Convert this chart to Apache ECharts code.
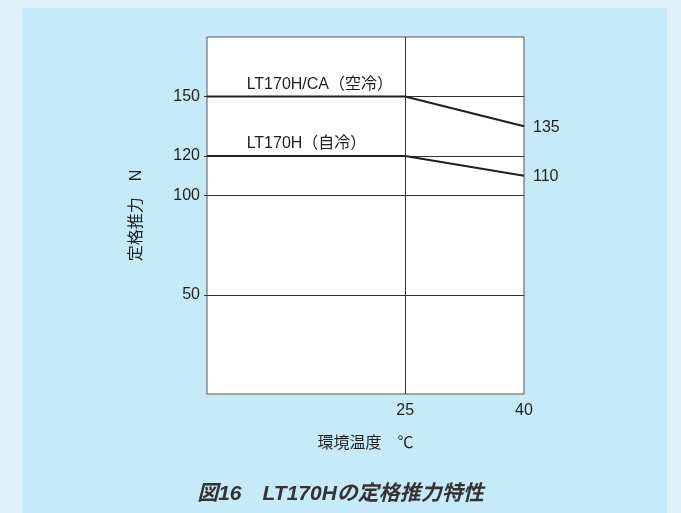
<!DOCTYPE html>
<html>
<head>
<meta charset="utf-8">
<script src="https://cdn.jsdelivr.net/npm/echarts@6/dist/echarts.min.js"></script>
<style>
  html, body { margin: 0; padding: 0; background: #e0f3fb; }
  #chart { width: 681px; height: 513px; }
</style>
</head>
<body>
<div id="chart"></div>
<script>
// Rated thrust vs ambient temperature
const seriesNames = ['LT170H/CA（空冷）', 'LT170H（自冷）'];
const temperatures = [0, 25, 40];
const thrustAirCooled = [150, 150, 135];
const thrustSelfCooled = [120, 120, 110];
const yTickValues = [50, 100, 120, 150];
const xTickValues = [25, 40];
const nameLabelX = 5;

const FONT = '"Liberation Sans", "Noto Sans CJK JP", sans-serif';
const INK = '#1e1e1e';

function lineSeries(name, values) {
  const data = temperatures.map((x, i) => [x, values[i]]);
  const last = data[data.length - 1];
  return {
    name: name,
    type: 'line',
    symbol: 'none',
    lineStyle: { color: INK, width: 2 },
    data: data,
    markPoint: {
      symbol: 'circle', symbolSize: 0, silent: true,
      data: [
        {
          coord: [nameLabelX, values[0]],
          label: {
            show: true, position: [0, -20], align: 'left', verticalAlign: 'top',
            formatter: name, color: INK, fontSize: 16, fontFamily: FONT
          }
        },
        {
          coord: last,
          label: {
            show: true, position: [9, -7], align: 'left', verticalAlign: 'top',
            formatter: String(last[1]), color: INK, fontSize: 16, fontFamily: FONT
          }
        }
      ]
    },
    markLine: {
      silent: true, symbol: 'none', label: { show: false },
      lineStyle: { color: '#333', width: 1, type: 'solid' },
      data: [{ xAxis: 25 }]
    },
    z: 3
  };
}

const chart = echarts.init(document.getElementById('chart'), null, { renderer: 'canvas' });
chart.setOption({
  backgroundColor: '#e0f3fb',
  animation: false,
  graphic: [{
    type: 'rect', z: -10, silent: true,
    shape: { x: 22, y: 8, width: 645, height: 520 },
    style: { fill: '#c7eaf9' }
  }],
  title: {
    text: '図16　LT170Hの定格推力特性',
    left: 'center', top: 479,
    textStyle: { fontSize: 21, fontWeight: 'bold', fontStyle: 'italic', color: '#333', fontFamily: FONT }
  },
  grid: {
    left: 207, right: 157, top: 37, bottom: 119,
    show: true, backgroundColor: '#fff', borderColor: '#555', borderWidth: 1
  },
  xAxis: {
    type: 'value', min: 0, max: 40,
    name: '環境温度　℃', nameLocation: 'middle', nameGap: 42,
    nameTextStyle: { fontSize: 16, color: INK, fontFamily: FONT },
    axisLine: { show: false },
    axisTick: { show: false },
    splitLine: { show: false },
    axisLabel: { customValues: xTickValues, margin: 9, fontSize: 16, color: INK, fontFamily: FONT }
  },
  yAxis: {
    type: 'value', min: 0, max: 180,
    name: '定格推力　N', nameLocation: 'middle', nameGap: 62, nameRotate: 90,
    nameTextStyle: { fontSize: 16, color: INK, fontFamily: FONT },
    axisLine: { show: false },
    axisTick: { show: true, customValues: yTickValues, length: 3, lineStyle: { color: '#333' } },
    splitLine: { show: true, lineStyle: { color: '#333', width: 1 } },
    axisLabel: { customValues: yTickValues, margin: 7, fontSize: 16, color: INK, fontFamily: FONT }
  },
  series: [
    lineSeries(seriesNames[0], thrustAirCooled),
    lineSeries(seriesNames[1], thrustSelfCooled)
  ]
});
</script>
</body>
</html>
